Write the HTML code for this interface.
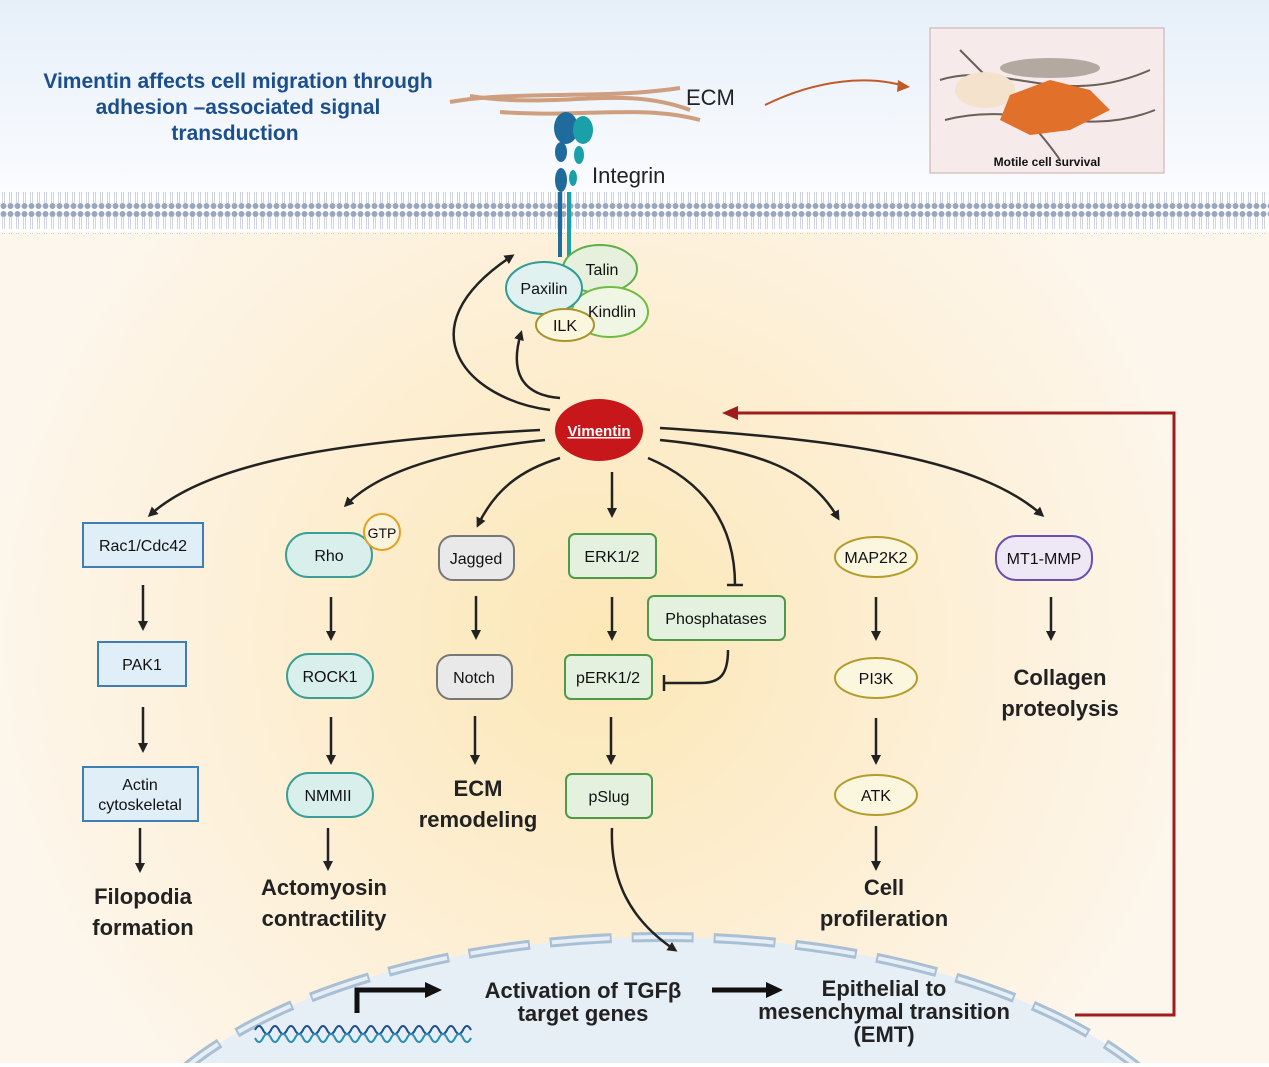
<!DOCTYPE html>
<html><head><meta charset="utf-8"><style>
html,body{margin:0;padding:0;background:#fff;width:1269px;height:1067px;overflow:hidden}
svg{display:block}
text{font-family:"Liberation Sans",sans-serif}
</style></head><body>
<svg width="1269" height="1067" viewBox="0 0 1269 1067" xmlns="http://www.w3.org/2000/svg">
<defs>
<linearGradient id="sky" x1="0" y1="0" x2="0" y2="1"><stop offset="0" stop-color="#e6eff9"/><stop offset="1" stop-color="#fbfcfe"/></linearGradient>
<radialGradient id="glow" cx="600" cy="640" r="620" gradientUnits="userSpaceOnUse"><stop offset="0" stop-color="#fce7b6"/><stop offset="0.6" stop-color="#fdf0d8"/><stop offset="1" stop-color="#fdf6ec"/></radialGradient>
<marker id="ah" markerWidth="10" markerHeight="10" refX="7" refY="5" orient="auto" markerUnits="userSpaceOnUse"><path d="M0,0 L10,5 L0,10 Z" fill="#222"/></marker>
<pattern id="lip" width="7" height="42" patternUnits="userSpaceOnUse"><circle cx="3.5" cy="4" r="3" fill="#9aa6bd"/><circle cx="3.5" cy="38" r="3" fill="#9aa6bd"/><path d="M2.5,7 L2.5,19 M4.5,7 L4.5,19 M2.5,23 L2.5,35 M4.5,23 L4.5,35" stroke="#b9c2d4" stroke-width="0.7"/></pattern>
<clipPath id="cl"><rect x="0" y="0" width="1269" height="1063"/></clipPath>
</defs>
<rect width="1269" height="1067" fill="#fff"/>
<rect x="0" y="0" width="1269" height="195" fill="url(#sky)"/>
<rect x="0" y="232" width="1269" height="831" fill="url(#glow)"/>
<rect x="0" y="192" width="1269" height="42" fill="url(#lip)"/>
<!-- nucleus -->
<g clip-path="url(#cl)">
<ellipse cx="662" cy="1205" rx="555" ry="268" fill="#e6eef6"/>
<ellipse cx="662" cy="1205" rx="555" ry="268" fill="none" stroke="#a9bfd4" stroke-width="10" stroke-dasharray="62 20"/>
<ellipse cx="662" cy="1205" rx="555" ry="268" fill="none" stroke="#e6eef6" stroke-width="4" stroke-dasharray="58 24" stroke-dashoffset="-2"/>
</g>
<!-- title -->
<g font-weight="bold" fill="#1b4f8c" font-size="21" text-anchor="middle">
<text x="238" y="88">Vimentin affects cell migration through</text>
<text x="238" y="114">adhesion –associated signal</text>
<text x="235" y="140">transduction</text></g>
<!-- ECM -->
<g fill="none" stroke="#c8906a" stroke-width="4" opacity="0.85">
<path d="M450,102 C520,90 600,100 680,88"/><path d="M470,96 C560,110 620,84 690,110"/><path d="M500,112 C580,118 640,104 700,120"/></g>
<text x="686" y="105" font-size="22" fill="#222">ECM</text>
<!-- integrin -->
<g fill="#1e6b9c"><ellipse cx="566" cy="128" rx="12" ry="16"/><ellipse cx="561" cy="152" rx="6" ry="10"/><ellipse cx="561" cy="180" rx="6" ry="12"/><rect x="558" y="192" width="4" height="65"/></g>
<g fill="#1aa0a8"><ellipse cx="583" cy="130" rx="10" ry="14"/><ellipse cx="579" cy="155" rx="5" ry="9"/><ellipse cx="573" cy="178" rx="4" ry="8"/><rect x="567" y="192" width="4" height="65"/></g>
<text x="592" y="183" font-size="22" fill="#222">Integrin</text>
<!-- inset -->
<rect x="930" y="28" width="234" height="145" fill="#f6eaea" stroke="#c9a9a9"/>
<g stroke="#6b5f57" stroke-width="2" fill="none"><path d="M940,80 C1000,60 1060,110 1150,70"/><path d="M945,120 C1020,100 1080,140 1155,110"/><path d="M960,50 C1000,90 1040,130 1060,160"/></g>
<ellipse cx="985" cy="90" rx="30" ry="18" fill="#f4e2cc"/><ellipse cx="1050" cy="68" rx="50" ry="10" fill="#b4a9a0"/>
<path d="M1010,95 L1050,80 L1090,90 L1110,110 L1070,130 L1030,135 L1000,120 Z" fill="#e0702a"/>
<text x="1047" y="166" font-size="12" font-weight="bold" text-anchor="middle" fill="#111">Motile cell survival</text>
<path d="M765,105 C820,78 870,76 905,86" fill="none" stroke="#c05a2a" stroke-width="2"/><path d="M898,80 L910,87 L897,92 Z" fill="#c05a2a"/>
<!-- adhesion complex -->
<ellipse cx="600" cy="269" rx="37" ry="24" fill="#e6f0dc" stroke="#5bb04a" stroke-width="2"/>
<ellipse cx="610" cy="312" rx="38" ry="25" fill="#f0f6e4" stroke="#6ebd3e" stroke-width="2"/>
<ellipse cx="544" cy="288" rx="38" ry="26" fill="#e1f1f0" stroke="#2f9c97" stroke-width="2"/>
<ellipse cx="565" cy="325" rx="29" ry="16" fill="#fbf6de" stroke="#a8942a" stroke-width="2"/>
<g font-size="16" fill="#111" text-anchor="middle"><text x="602" y="275">Talin</text><text x="612" y="317">Kindlin</text><text x="544" y="294">Paxilin</text><text x="565" y="331">ILK</text></g>
<!-- arrows from vimentin -->
<g fill="none" stroke="#222" stroke-width="2.5" marker-end="url(#ah)">
<path d="M550,410 C470,400 400,330 512,256"/>
<path d="M560,398 C520,395 510,370 521,333"/>
<path d="M540,430 C350,440 210,460 150,515"/>
<path d="M545,440 C450,450 380,470 346,505"/>
<path d="M560,458 C520,470 495,490 478,525"/>
<path d="M612,472 L612,515"/>
<path d="M660,440 C760,450 810,470 838,518"/>
<path d="M660,428 C850,440 980,460 1042,515"/>
</g>
<path d="M648,458 C700,480 735,520 735,585" fill="none" stroke="#222" stroke-width="2.5"/><path d="M727,585 L743,585" stroke="#222" stroke-width="2.5"/>
<!-- red feedback -->
<path d="M1075,1015 L1174,1015 L1174,413 L735,413" fill="none" stroke="#a01c1c" stroke-width="3"/>
<path d="M722,413 L738,406 L738,420 Z" fill="#a01c1c"/>
<!-- vimentin -->
<ellipse cx="599" cy="430" rx="44" ry="31" fill="#c8171b"/>
<text x="599" y="436" font-size="15" font-weight="bold" fill="#fff" text-anchor="middle" text-decoration="underline">Vimentin</text>
<!-- column 1 -->
<g stroke="#3d7fb5" stroke-width="2" fill="#e0eef8">
<rect x="83" y="523" width="120" height="44"/><rect x="98" y="642" width="88" height="44"/><rect x="83" y="767" width="115" height="54"/></g>
<g font-size="16" fill="#111" text-anchor="middle"><text x="143" y="551">Rac1/Cdc42</text><text x="142" y="670">PAK1</text><text x="140" y="790">Actin</text><text x="140" y="810">cytoskeletal</text></g>
<!-- column 2 -->
<g stroke="#3a9f95" stroke-width="2" fill="#d9efec">
<rect x="286" y="533" width="86" height="44" rx="22"/><rect x="287" y="654" width="86" height="44" rx="22"/><rect x="287" y="773" width="86" height="44" rx="22"/></g>
<circle cx="382" cy="532" r="18" fill="#fcf3dc" stroke="#e2a020" stroke-width="2"/>
<g font-size="16" fill="#111" text-anchor="middle"><text x="329" y="561">Rho</text><text x="382" y="538" font-size="14">GTP</text><text x="330" y="682">ROCK1</text><text x="328" y="801">NMMII</text></g>
<!-- column 3 -->
<g stroke="#777" stroke-width="2" fill="#e9e9e9">
<rect x="439" y="536" width="75" height="44" rx="14"/><rect x="437" y="655" width="75" height="44" rx="14"/></g>
<g font-size="16" fill="#111" text-anchor="middle"><text x="476" y="564">Jagged</text><text x="474" y="683">Notch</text></g>
<!-- column 4 -->
<g stroke="#4f9a4a" stroke-width="2" fill="#e3f1de">
<rect x="569" y="534" width="87" height="44" rx="6"/><rect x="648" y="596" width="137" height="44" rx="6"/><rect x="565" y="655" width="87" height="44" rx="6"/><rect x="566" y="774" width="86" height="44" rx="6"/></g>
<g font-size="16" fill="#111" text-anchor="middle"><text x="612" y="562">ERK1/2</text><text x="716" y="624">Phosphatases</text><text x="608" y="683">pERK1/2</text><text x="609" y="802">pSlug</text></g>
<path d="M728,650 C728,675 720,683 700,683 L665,683" fill="none" stroke="#222" stroke-width="2.5"/><path d="M664,675 L664,691" stroke="#222" stroke-width="2.5"/>
<!-- column 5 -->
<g stroke="#b49b2a" stroke-width="2" fill="#fbf6de">
<ellipse cx="876" cy="557" rx="41" ry="20"/><ellipse cx="876" cy="678" rx="41" ry="20"/><ellipse cx="876" cy="795" rx="41" ry="20"/></g>
<g font-size="16" fill="#111" text-anchor="middle"><text x="876" y="563">MAP2K2</text><text x="876" y="684">PI3K</text><text x="876" y="801">ATK</text></g>
<!-- column 6 -->
<rect x="996" y="536" width="96" height="44" rx="20" fill="#eee8f6" stroke="#6a4fb0" stroke-width="2"/>
<text x="1044" y="564" font-size="16" fill="#111" text-anchor="middle">MT1-MMP</text>
<!-- vertical arrows -->
<g stroke="#222" stroke-width="2.5" marker-end="url(#ah)">
<line x1="143" y1="585" x2="143" y2="628"/><line x1="143" y1="707" x2="143" y2="750"/><line x1="140" y1="828" x2="140" y2="870"/>
<line x1="331" y1="597" x2="331" y2="638"/><line x1="331" y1="717" x2="331" y2="762"/><line x1="328" y1="828" x2="328" y2="868"/>
<line x1="476" y1="596" x2="476" y2="637"/><line x1="475" y1="716" x2="475" y2="762"/>
<line x1="612" y1="597" x2="612" y2="638"/><line x1="611" y1="717" x2="611" y2="762"/>
<line x1="876" y1="597" x2="876" y2="638"/><line x1="876" y1="718" x2="876" y2="762"/><line x1="876" y1="826" x2="876" y2="868"/>
<line x1="1051" y1="597" x2="1051" y2="638"/>
</g>
<path d="M612,828 C610,880 630,920 675,950" fill="none" stroke="#222" stroke-width="2.5" marker-end="url(#ah)"/>
<!-- outcome labels -->
<g font-size="22" font-weight="bold" fill="#222" text-anchor="middle">
<text x="143" y="904">Filopodia</text><text x="143" y="935">formation</text>
<text x="324" y="895">Actomyosin</text><text x="324" y="926">contractility</text>
<text x="478" y="796">ECM</text><text x="478" y="827">remodeling</text>
<text x="884" y="895">Cell</text><text x="884" y="926">profileration</text>
<text x="1060" y="685">Collagen</text><text x="1060" y="716">proteolysis</text>
<text x="583" y="998">Activation of TGFβ</text><text x="583" y="1021">target genes</text>
<text x="884" y="996">Epithelial to</text><text x="884" y="1019">mesenchymal transition</text><text x="884" y="1042">(EMT)</text>
</g>
<!-- promoter arrow -->
<path d="M357,1013 L357,990 L428,990" fill="none" stroke="#111" stroke-width="5"/><path d="M425,982 L442,990 L425,998 Z" fill="#111"/>
<path d="M712,990 L770,990" stroke="#111" stroke-width="5"/><path d="M766,982 L783,990 L766,998 Z" fill="#111"/>
<!-- DNA -->
<path d="M255,1030 q4,-8 8,0 t8,0 t8,0 t8,0 t8,0 t8,0 t8,0 t8,0 t8,0 t8,0 t8,0 t8,0 t8,0 t8,0 t8,0 t8,0 t8,0 t8,0 t8,0 t8,0 t8,0 t8,0 t8,0 t8,0 t8,0 t8,0 t8,0" fill="none" stroke="#1b4f8c" stroke-width="2"/>
<path d="M255,1038 q4,8 8,0 t8,0 t8,0 t8,0 t8,0 t8,0 t8,0 t8,0 t8,0 t8,0 t8,0 t8,0 t8,0 t8,0 t8,0 t8,0 t8,0 t8,0 t8,0 t8,0 t8,0 t8,0 t8,0 t8,0 t8,0 t8,0 t8,0" fill="none" stroke="#2a8fb0" stroke-width="2"/>
</svg>
</body></html>
